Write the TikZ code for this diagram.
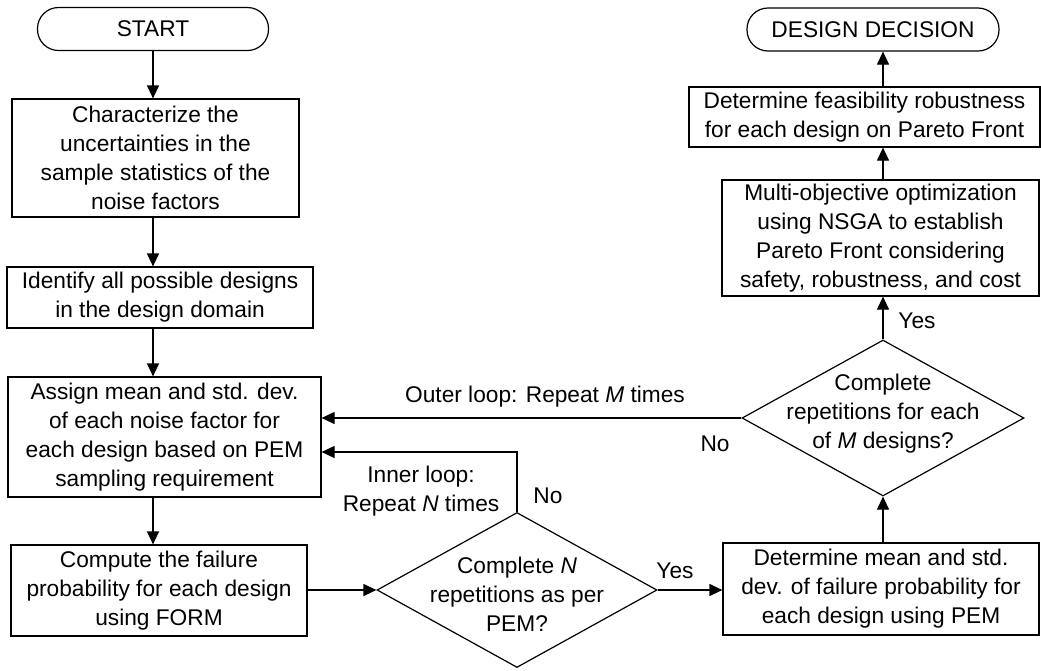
\documentclass[tikz,border=0pt]{standalone}
\usepackage{fontspec}
\setmainfont{Liberation Sans}
\usetikzlibrary{shapes.geometric,arrows.meta}
\begin{document}
\begin{tikzpicture}[x=1pt,y=-1pt,
  every node/.style={font=\fontsize{22.7}{29}\selectfont},
  box/.style={draw,line width=1.2pt,rectangle,align=center,inner sep=0pt},
  term/.style={draw,line width=1.2pt,rectangle,rounded corners=21pt,align=center,inner sep=0pt},
  dia/.style={draw,line width=1.2pt,diamond,inner sep=0pt},
  txt/.style={align=center,inner sep=0pt},
  arr/.style={line width=1.2pt,-{Triangle[length=13pt,width=12pt]}},
  ln/.style={line width=1.2pt}]
\useasboundingbox (0,0) rectangle (1041,670);
% left column
\node[term,minimum width=231pt,minimum height=43pt] (start) at (153,29) {START};
\node[box,minimum width=287pt,minimum height=118pt] (b1) at (155.5,158) {Characterize the\\uncertainties in the\\sample statistics of the\\noise factors};
\node[box,minimum width=306pt,minimum height=61pt] (b2) at (160,297.5) {Identify all possible designs\\in the design domain};
\node[box,minimum width=313pt,minimum height=120pt] (b3) at (164.5,437) {Assign mean and std. dev.\\of each noise factor for\\each design based on PEM\\sampling requirement};
\node[box,minimum width=296pt,minimum height=91pt] (b4) at (159,590.5) {Compute the failure\\probability for each design\\using FORM};
% diamonds
\node[dia,minimum width=280pt,minimum height=155pt] (d1) at (517,590) {};
\node[txt] (d1t) at (517,594) {Complete \textit{N}\\repetitions as per\\PEM?};
\node[dia,minimum width=282pt,minimum height=156pt] (d2) at (883,418) {};
\node[txt] (d2t) at (883,414) {Complete\\repetitions for each\\of \textit{M} designs?};
% right column
\node[box,minimum width=316pt,minimum height=92pt] (b5) at (881,589) {Determine mean and std.\\dev. of failure probability for\\each design using PEM};
\node[box,minimum width=317pt,minimum height=116pt] (b6) at (880.5,238) {Multi-objective optimization\\using NSGA to establish\\Pareto Front considering\\safety, robustness, and cost};
\node[box,minimum width=351pt,minimum height=60pt] (b7) at (864.5,117) {Determine feasibility robustness\\for each design on Pareto Front};
\node[term,minimum width=252pt,minimum height=43pt] (end) at (873,29.5) {DESIGN DECISION};
% labels
\node[txt] (lyes1) at (675,571) {Yes};
\node[txt] (lno1) at (548,496) {No};
\node[txt] (linner) at (421,491) {Inner loop:\\Repeat \textit{N} times};
\node[txt] (louter) at (545,397) {Outer loop: Repeat \textit{M} times};
\node[txt] (lno2) at (715,444) {No};
\node[txt] (lyes2) at (917,321) {Yes};
% connectors
\draw[arr] (start.south) -- (b1.north -| start);
\draw[arr] (b1.south -| start) -- (b2.north -| start);
\draw[arr] (b2.south -| start) -- (b3.north -| start);
\draw[arr] (b3.south -| start) -- (b4.north -| start);
\draw[arr] (b4.east |- d1.west) -- (d1.west);
\draw[arr] (d1.east) -- (b5.west |- d1.east);
\coordinate (ilc) at (517,452);
\draw[arr] (d1.north) -- (ilc) -- (b3.east |- ilc);
\draw[arr] (d2.west) -- (b3.east |- d2.west);
\draw[arr] (b5.north -| d2) -- (d2.south);
\draw[arr] (d2.north) -- (b6.south -| d2);
\draw[arr] (b6.north -| d2) -- (b7.south -| d2);
\draw[arr] (b7.north -| d2) -- (end.south -| d2);
\end{tikzpicture}
\end{document}
